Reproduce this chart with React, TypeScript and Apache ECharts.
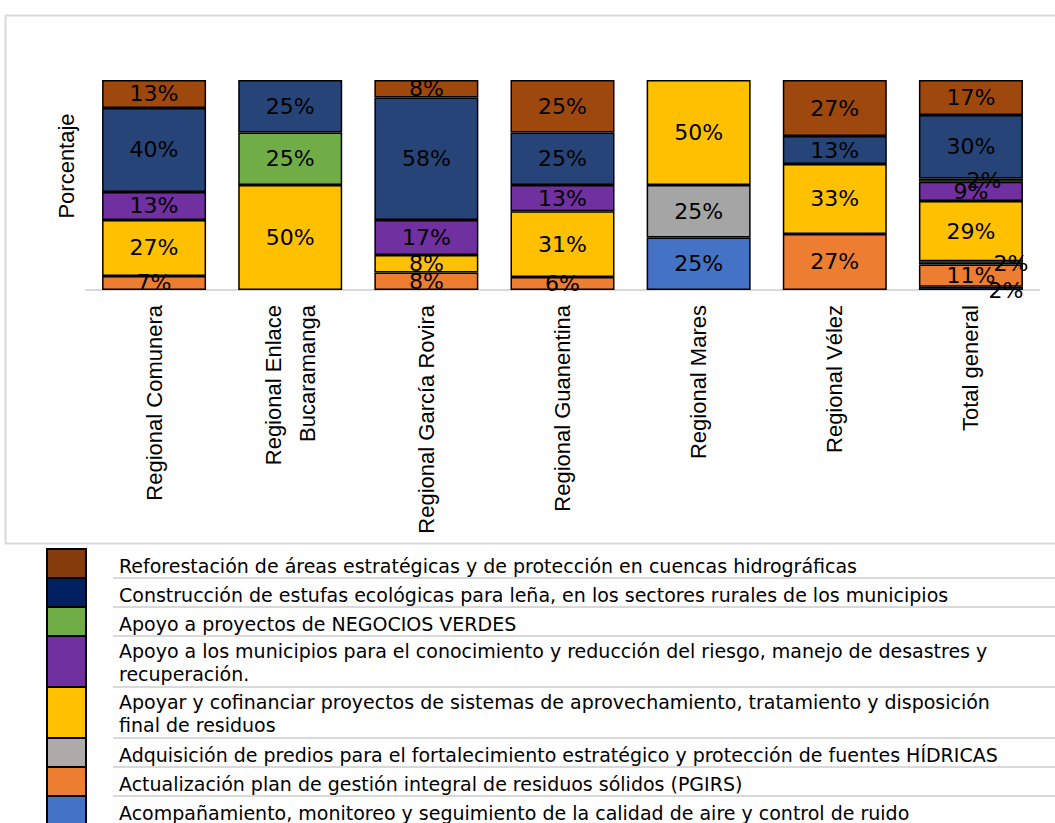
import React, { useEffect, useRef } from "react";
import * as echarts from "echarts";

const categories = [
  "Regional Comunera",
  "Regional Enlace\nBucaramanga",
  "Regional García Rovira",
  "Regional Guanentina",
  "Regional Mares",
  "Regional Vélez",
  "Total general",
];

const yAxisTitle = "Porcentaje";

// Series names (bottom of the stack first); "\n" marks the legend line break
const seriesNames = [
  "Acompañamiento, monitoreo y seguimiento de la calidad de aire y control de ruido",
  "Actualización plan de gestión integral de residuos sólidos (PGIRS)",
  "Adquisición de predios para el fortalecimiento estratégico y protección de fuentes HÍDRICAS",
  "Apoyar y cofinanciar proyectos de sistemas de aprovechamiento, tratamiento y disposición\nfinal de residuos",
  "Apoyo a los municipios para el conocimiento y reducción del riesgo, manejo de desastres y\nrecuperación.",
  "Apoyo a proyectos de NEGOCIOS VERDES",
  "Construcción de estufas ecológicas para leña, en los sectores rurales de los municipios",
  "Reforestación de áreas estratégicas y de protección en cuencas hidrográficas",
];

const acompanamiento = ["-", "-", "-", "-", 25, "-", 1.52];
const actualizacion = [6.67, "-", 8.33, 6.25, "-", 26.67, 10.61];
const adquisicion = ["-", "-", "-", "-", 25, "-", 1.52];
const apoyar = [26.67, 50, 8.33, 31.25, 50, 33.33, 28.79];
const apoyoMunicipios = [13.33, "-", 16.67, 12.5, "-", "-", 9.09];
const negociosVerdes = ["-", 25, "-", "-", "-", "-", 1.52];
const construccion = [40, 25, 58.33, 25, "-", 13.33, 30.3];
const reforestacion = [13.33, "-", 8.33, 25, "-", 26.67, 16.67];

const seriesValues = [
  acompanamiento,
  actualizacion,
  adquisicion,
  apoyar,
  apoyoMunicipios,
  negociosVerdes,
  construccion,
  reforestacion,
];

const barColors = ["#4472C4", "#ED7D31", "#A5A5A5", "#FFC000", "#7030A0", "#70AD47", "#264478", "#9E480E"];
const legendColors = ["#4472C4", "#ED7D31", "#AEAAAA", "#FFC000", "#7030A0", "#70AD47", "#002060", "#843C0C"];

// manual label nudges (series index -> category index -> offset)
const labelOffsets: Record<string, number[]> = {
  "0-6": [35, 2],
  "2-6": [40, 1],
  "5-6": [13, 0],
};

export default function App() {
  const ref = useRef<HTMLDivElement>(null);

  useEffect(() => {
    if (!ref.current) return;
    const chart = echarts.init(ref.current, null, { renderer: "svg" });

    const series = seriesValues.map((vals, si) => ({
      name: seriesNames[si].replace("\n", " "),
      type: "bar",
      stack: "total",
      barWidth: 104,
      itemStyle: { color: barColors[si], borderColor: "#000", borderWidth: 1.5 },
      label: {
        show: true,
        position: "inside",
        formatter: (p: any) => Math.round(Number(p.value)) + "%",
        fontSize: 22,
        fontFamily: "'DejaVu Sans', sans-serif",
        color: "#000",
      },
      data: vals.map((v, ci) => {
        const off = labelOffsets[si + "-" + ci];
        return off ? { value: v, label: { offset: off } } : v;
      }),
    }));

    const graphic: any[] = [];
    graphic.push({
      type: "rect",
      shape: { x: 5.5, y: 15.5, width: 1060, height: 528 },
      style: { fill: "none", stroke: "#d9d9d9", lineWidth: 2 },
    });
    graphic.push({
      type: "text",
      x: 66,
      y: 166,
      rotation: Math.PI / 2,
      style: {
        text: yAxisTitle,
        fontSize: 22,
        fontFamily: "'Liberation Sans', sans-serif",
        fill: "#000",
        align: "center",
        verticalAlign: "middle",
      },
    });
    // legend table built from series names (top = last series)
    let y = 549;
    for (let k = seriesNames.length - 1; k >= 0; k--) {
      const lines = seriesNames[k].split("\n");
      const h = lines.length > 1 ? 51 : 29;
      graphic.push({
        type: "rect",
        shape: { x: 47, y: y, width: 39, height: h },
        style: { fill: legendColors[k], stroke: "#000", lineWidth: 2 },
      });
      graphic.push({
        type: "text",
        style: {
          x: 119,
          y: y + (lines.length > 1 ? 3 : 5),
          text: seriesNames[k],
          fontSize: 19,
          lineHeight: 23,
          fontFamily: "'DejaVu Sans', sans-serif",
          fill: "#000",
          textVerticalAlign: "top",
        },
      });
      y += h;
      graphic.push({
        type: "line",
        shape: { x1: 113, y1: y, x2: 1055, y2: y },
        style: { stroke: "#d9d9d9", lineWidth: 2 },
      });
    }

    chart.setOption({
      animation: false,
      grid: { left: 86, right: 16, top: 80, height: 210 },
      xAxis: {
        type: "category",
        data: categories,
        axisLine: { lineStyle: { color: "#d9d9d9", width: 2 } },
        axisTick: { show: false },
        axisLabel: {
          rotate: 90,
          margin: 15,
          interval: 0,
          fontSize: 22,
          lineHeight: 34,
          fontFamily: "'Liberation Sans', sans-serif",
          color: "#000",
        },
      },
      yAxis: {
        type: "value",
        min: 0,
        max: 100,
        axisLabel: { show: false },
        axisLine: { show: false },
        axisTick: { show: false },
        splitLine: { show: false },
      },
      series,
      graphic,
    });

    return () => chart.dispose();
  }, []);

  return (
    <div
      ref={ref}
      style={{ position: "absolute", left: 0, top: 0, width: 1055, height: 823, background: "#fff" }}
    />
  );
}
